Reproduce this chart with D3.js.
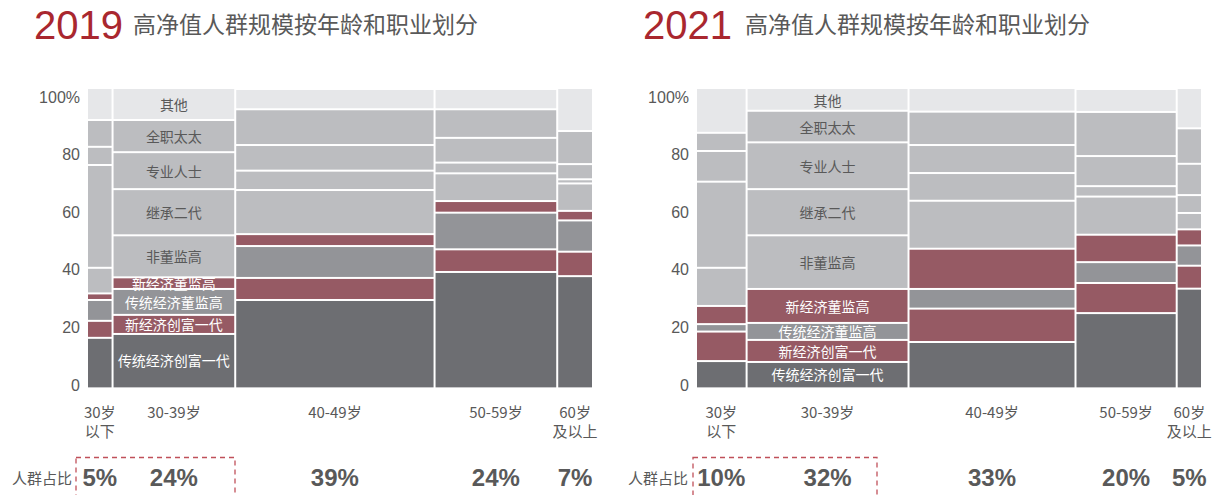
<!DOCTYPE html>
<html>
<head>
<meta charset="utf-8">
<script src="https://cdn.jsdelivr.net/npm/d3@7"></script>
<style>
  body { margin: 0; background: #fff; }
  text { font-family: "Noto Sans CJK SC", sans-serif; fill: #595959; }
</style>
</head>
<body>
<svg id="chart" width="1223" height="495"></svg>
<script>
// occupations, bottom to top
const occupations = ['传统经济创富一代', '新经济创富一代', '传统经济董监高', '新经济董监高',
    '非董监高', '继承二代', '专业人士', '全职太太', '其他'];
const ageGroups = [['30岁', '以下'], ['30-39岁'], ['40-49岁'], ['50-59岁'], ['60岁', '及以上']];
const yTicks = [0, 20, 40, 60, 80, 100];

// share of people by age group (%)
const share2019 = [5, 24, 39, 24, 7];
const share2021 = [10, 32, 33, 20, 5];

// occupation mix inside each age group (%)
const mix2019 = [
    [16.5, 5.7, 7.0, 2.2, 8.6, 34.5, 6.1, 9.0, 10.4],
    [17.8, 6.4, 8.7, 3.9, 14.1, 15.5, 12.4, 10.8, 10.4],
    [29.2, 7.4, 10.7, 4.0, 14.8, 6.5, 8.6, 12.0, 6.8],
    [38.6, 7.6, 12.3, 3.9, 9.3, 3.6, 8.3, 9.6, 6.8],
    [37.2, 8.2, 10.5, 3.2, 9.2, 1.4, 5.1, 11.1, 14.1]
];
const mix2021 = [
    [8.7, 9.9, 2.5, 6.1, 12.8, 28.9, 10.3, 6.1, 14.7],
    [8.4, 7.4, 5.7, 11.4, 18.0, 15.5, 15.7, 10.6, 7.3],
    [15.1, 11.2, 6.6, 13.5, 16.1, 9.3, 9.4, 11.2, 7.6],
    [24.8, 10.1, 7.0, 9.2, 12.8, 3.5, 10.1, 14.8, 7.7],
    [33.0, 7.7, 6.8, 5.4, 5.5, 6.0, 10.5, 11.9, 13.2]
];

const colors = ['#6d6e72', '#965a64', '#939498', '#965a64',
    '#bcbdc0', '#bcbdc0', '#bcbdc0', '#bcbdc0', '#e6e7e9'];
const labelColors = ['#fff', '#fff', '#fff', '#fff',
    '#595959', '#595959', '#595959', '#595959', '#595959'];

const svg = d3.select('#chart');

const panels = [
    {year: '2019', shares: share2019, mix: mix2019, x0: 87, tickRight: 80, labelRight: 72, box: [76, 235], titleX: 34, subX: 133},
    {year: '2021', shares: share2021, mix: mix2021, x0: 696, tickRight: 689, labelRight: 688, box: [693, 877], titleX: 643, subX: 745}
];

panels.forEach(drawPanel);

function drawPanel(p) {
    const g = svg.append('g');
    const plotW = 506;

    const x = d3.scaleLinear().domain([0, d3.sum(p.shares)]).range([p.x0, p.x0 + plotW]);
    const y = d3.scaleLinear().domain([0, 100]).range([387, 89]);
    const yTick = d3.scaleLinear().domain([0, 100]).range([385, 97]);

    // title
    g.append('text')
        .attr('x', p.titleX).attr('y', 39)
        .style('font-family', '"Liberation Sans", sans-serif')
        .style('font-size', '40px')
        .style('fill', '#a9272f')
        .text(p.year);
    g.append('text')
        .attr('x', p.subX).attr('y', 33)
        .style('font-size', '23px')
        .text('高净值人群规模按年龄和职业划分');

    // y tick labels
    g.selectAll('.ytick').data(yTicks).enter().append('text')
        .attr('x', p.tickRight)
        .attr('y', d => yTick(d))
        .attr('text-anchor', 'end')
        .attr('dominant-baseline', 'central')
        .style('font-family', '"Liberation Sans", sans-serif')
        .style('font-size', '16px')
        .text(d => d === 100 ? '100%' : d);

    const ends = d3.cumsum(p.shares);

    p.shares.forEach((s, i) => {
        const xa = x(ends[i] - s), xb = x(ends[i]);
        const tops = d3.cumsum(p.mix[i]);
        const segs = p.mix[i].map((v, k) => ({k: k, y0: tops[k] - v, y1: tops[k]}));

        g.selectAll('.seg' + i).data(segs).enter().append('rect')
            .attr('x', xa + 1)
            .attr('width', xb - xa - 2)
            .attr('y', d => y(d.y1) + (d.y1 >= 100 ? 0 : 1))
            .attr('height', d => y(d.y0) - y(d.y1) - (d.y1 >= 100 ? 1 : 2) + (d.y0 <= 0 ? 1 : 0))
            .attr('fill', d => colors[d.k]);

        // base line
        g.append('line')
            .attr('x1', xa + 1).attr('x2', xb - 1)
            .attr('y1', y(0) + 0.5).attr('y2', y(0) + 0.5)
            .attr('stroke', '#c9c9cb');

        // labels in the 30-39 column
        if (i === 1) {
            g.selectAll('.lab').data(segs).enter().append('text')
                .attr('x', (xa + xb) / 2)
                .attr('y', d => y((d.y0 + d.y1) / 2))
                .attr('text-anchor', 'middle')
                .attr('dominant-baseline', 'central')
                .style('font-size', '14px')
                .style('fill', d => labelColors[d.k])
                .text(d => occupations[d.k]);
        }

        // age label
        g.selectAll('.age' + i).data(ageGroups[i]).enter().append('text')
            .attr('x', (xa + xb) / 2)
            .attr('y', (d, j) => 411 + j * 19)
            .attr('text-anchor', 'middle')
            .attr('dominant-baseline', 'central')
            .style('font-size', '15px')
            .text(d => d);

        // share
        g.append('text')
            .attr('x', (xa + xb) / 2)
            .attr('y', 486)
            .attr('text-anchor', 'middle')
            .style('font-family', '"Liberation Sans", sans-serif')
            .style('font-weight', 'bold')
            .style('font-size', '24px')
            .text(s + '%');
    });

    g.append('text')
        .attr('x', p.labelRight).attr('y', 477)
        .attr('text-anchor', 'end')
        .attr('dominant-baseline', 'central')
        .style('font-size', '15px')
        .text('人群占比');

    g.append('rect')
        .attr('x', p.box[0]).attr('y', 457.5)
        .attr('width', p.box[1] - p.box[0]).attr('height', 60)
        .attr('fill', 'none')
        .attr('stroke', '#c0505a')
        .attr('stroke-width', 1.3)
        .attr('stroke-dasharray', '5,4');
}
</script>
</body>
</html>
